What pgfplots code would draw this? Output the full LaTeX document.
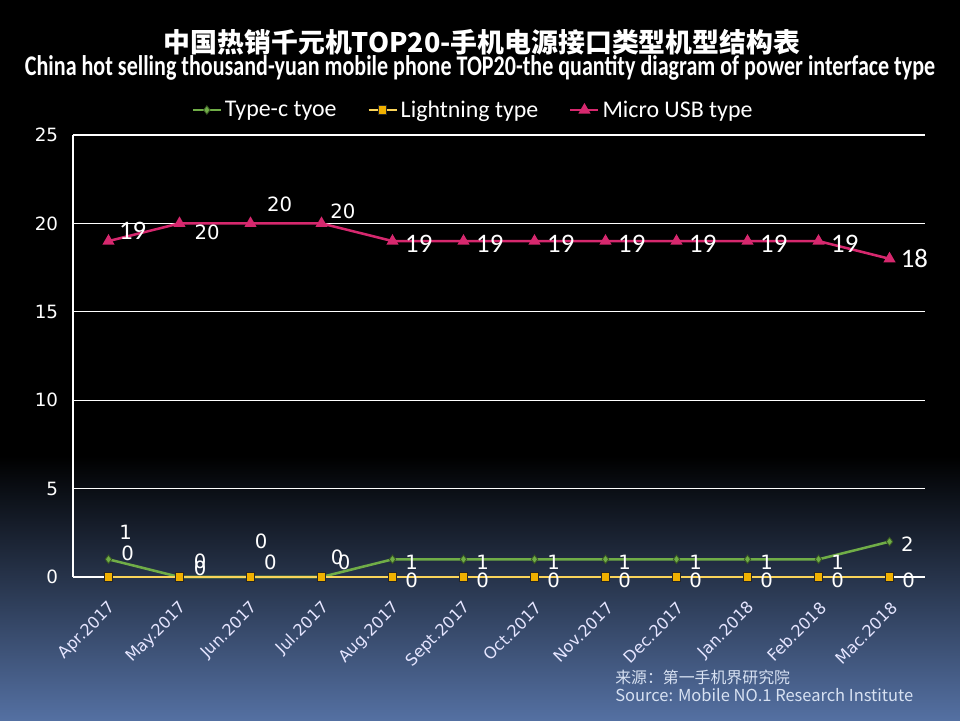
\documentclass[border=0pt]{standalone}
\usepackage{pgfplots}
\pgfplotsset{compat=1.18}
\usepackage{fontspec}
\setmainfont{DejaVu Sans}
\newfontfamily\carlito{Carlito}
\newfontfamily\cjk{Noto Sans CJK SC}
\definecolor{tcgreen}{RGB}{112,173,71}
\definecolor{ltyellow}{RGB}{250,212,90}
\definecolor{ltorange}{RGB}{240,176,0}
\definecolor{musb}{RGB}{214,40,110}
\definecolor{bgblue}{RGB}{84,112,162}
\definecolor{srcblue}{RGB}{215,225,242}
\newcommand\lbl{\fontsize{14}{14}\selectfont}
\newcommand\lblc{\carlito\fontsize{19}{19}\selectfont}
\begin{document}
\begin{tikzpicture}
\useasboundingbox (0,0) rectangle (24,18);
\fill[black] (0,0) rectangle (24,18);
\shade[top color=black, bottom color=bgblue] (0,0) rectangle (24,6.6);
\node[font=\cjk\bfseries, text=white, inner sep=0] at (12.05,16.95) {\resizebox{15.9cm}{!}{中国热销千元机TOP20-手机电源接口类型机型结构表}};
\node[text=white, inner sep=0] at (12.0,16.3) {\resizebox{22.75cm}{0.5cm}{\carlito\bfseries China hot selling thousand-yuan mobile phone TOP20-the quantity diagram of power interface type}};
\node[anchor=west, text=srcblue, inner sep=0, font=\cjk\fontsize{11.3}{12}\selectfont] at (15.375,1.075) {来源：第一手机界研究院};
\node[anchor=west, text=srcblue, inner sep=0] at (15.375,0.625) {\resizebox{7.45cm}{!}{\cjk Source: Mobile NO.1 Research Institute}};
\begin{axis}[
  at={(1.825cm,3.575cm)}, anchor=south west,
  scale only axis, width=21.3cm, height=11.05cm,
  xmin=-0.5, xmax=11.5, ymin=0, ymax=25,
  axis x line=bottom, axis y line=left,
  axis line style={white, line width=0.8pt, -},
  ytick={0,5,10,15,20,25},
  xtick={0,...,11},
  xticklabels={Apr.2017,May.2017,Jun.2017,Jul.2017,Aug.2017,Sept.2017,Oct.2017,Nov.2017,Dec.2017,Jan.2018,Feb.2018,Mac.2018},
  major tick length=0,
  ymajorgrids, grid style={white, line width=0.8pt},
  /pgf/number format/assume math mode=true,
  yticklabel style={text=white, font=\fontsize{13}{13}\selectfont, anchor=east, xshift=-0.25cm},
  xticklabel style={text=white!90!blue, font=\fontsize{11.5}{11.5}\selectfont, xshift=0.12cm, yshift=-0.7cm, rotate=45, anchor=east, inner sep=0},
  clip=false,
  legend columns=3,
  legend style={at={(0.47,1.0566)}, anchor=center, draw=none, fill=none, text=white,
    font=\carlito\fontsize{17}{20}\selectfont,
    /tikz/every even column/.append style={column sep=0.7cm}},
  legend image code/.code={\draw[mark repeat=2,mark phase=2,#1] plot coordinates {(0cm,0cm)(0.35cm,0cm)(0.7cm,0cm)};},
]
\addplot[tcgreen, line width=1.8pt, mark=diamond*, mark size=3pt, mark options={fill=tcgreen, draw=tcgreen!50!black, line width=0.6pt}]
  coordinates {(0,1)(1,0)(2,0)(3,0)(4,1)(5,1)(6,1)(7,1)(8,1)(9,1)(10,1)(11,2)};
\addlegendentry{Type-c tyoe}
\addplot[ltyellow, line width=1.8pt, mark=square*, mark size=3pt, mark options={fill=ltorange, draw=black!85, line width=0.8pt}]
  coordinates {(0,0)(1,0)(2,0)(3,0)(4,0)(5,0)(6,0)(7,0)(8,0)(9,0)(10,0)(11,0)};
\addlegendentry{Lightning type}
\addplot[musb, line width=1.8pt, mark=triangle*, mark size=3.2pt, mark options={fill=musb, draw=musb}]
  coordinates {(0,19)(1,20)(2,20)(3,20)(4,19)(5,19)(6,19)(7,19)(8,19)(9,19)(10,19)(11,18)};
\addlegendentry{Micro USB type}
% Micro USB labels
\node[text=white, font=\lblc] at (axis cs:0.34,19.57) {19};
\node[text=white, font=\lbl] at (axis cs:1.39,19.51) {20};
\node[text=white, font=\lbl] at (axis cs:2.41,21.10) {20};
\node[text=white, font=\lbl] at (axis cs:3.30,20.70) {20};
\node[text=white, font=\lblc] at (axis cs:4.37,18.83) {19};
\node[text=white, font=\lblc] at (axis cs:5.37,18.83) {19};
\node[text=white, font=\lblc] at (axis cs:6.37,18.83) {19};
\node[text=white, font=\lblc] at (axis cs:7.37,18.83) {19};
\node[text=white, font=\lblc] at (axis cs:8.37,18.83) {19};
\node[text=white, font=\lblc] at (axis cs:9.37,18.83) {19};
\node[text=white, font=\lblc] at (axis cs:10.37,18.83) {19};
\node[text=white, font=\lblc] at (axis cs:11.35,18.04) {18};
% Type-c labels
\node[text=white, font=\lbl] at (axis cs:0.24,2.55) {1};
\node[text=white, font=\lbl] at (axis cs:1.29,0.90) {0};
\node[text=white, font=\lbl] at (axis cs:2.15,2.04) {0};
\node[text=white, font=\lbl] at (axis cs:3.22,1.13) {0};
\node[text=white, font=\lbl] at (axis cs:4.27,0.85) {1};
\node[text=white, font=\lbl] at (axis cs:5.27,0.85) {1};
\node[text=white, font=\lbl] at (axis cs:6.27,0.85) {1};
\node[text=white, font=\lbl] at (axis cs:7.27,0.85) {1};
\node[text=white, font=\lbl] at (axis cs:8.27,0.85) {1};
\node[text=white, font=\lbl] at (axis cs:9.27,0.85) {1};
\node[text=white, font=\lbl] at (axis cs:10.27,0.85) {1};
\node[text=white, font=\lbl] at (axis cs:11.25,1.87) {2};
% Lightning labels
\node[text=white, font=\lbl] at (axis cs:0.27,1.36) {0};
\node[text=white, font=\lbl] at (axis cs:1.29,0.51) {0};
\node[text=white, font=\lbl] at (axis cs:2.28,0.85) {0};
\node[text=white, font=\lbl] at (axis cs:3.32,0.85) {0};
\node[text=white, font=\lbl] at (axis cs:4.27,-0.17) {0};
\node[text=white, font=\lbl] at (axis cs:5.27,-0.17) {0};
\node[text=white, font=\lbl] at (axis cs:6.27,-0.17) {0};
\node[text=white, font=\lbl] at (axis cs:7.27,-0.17) {0};
\node[text=white, font=\lbl] at (axis cs:8.27,-0.17) {0};
\node[text=white, font=\lbl] at (axis cs:9.27,-0.17) {0};
\node[text=white, font=\lbl] at (axis cs:10.27,-0.17) {0};
\node[text=white, font=\lbl] at (axis cs:11.27,-0.17) {0};
\end{axis}
\end{tikzpicture}
\end{document}
